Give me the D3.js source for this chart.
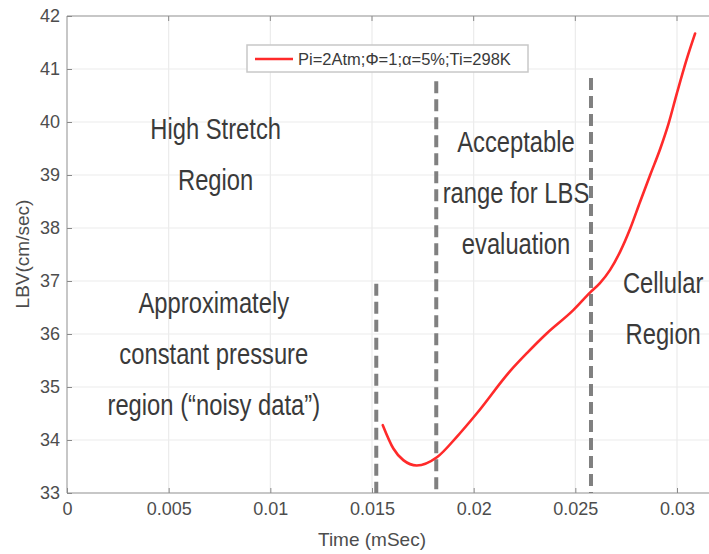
<!DOCTYPE html>
<html>
<head>
<meta charset="utf-8">
<script src="https://cdn.jsdelivr.net/npm/d3@7"></script>
<style>
  html, body { margin: 0; padding: 0; background: #fff; }
  svg { display: block; }
</style>
</head>
<body>
<svg id="chart" width="709" height="554"></svg>
<script>
// Laminar burning velocity vs. time
const timeMs = [0.01553, 0.01605, 0.01654, 0.0172, 0.01821, 0.01917, 0.02015, 0.02179, 0.02262,
                0.02359, 0.0249, 0.02572, 0.02621, 0.02671, 0.02720, 0.02770, 0.02819, 0.02868,
                0.02918, 0.02957, 0.03000, 0.03049, 0.03089];
const lbv = [34.28, 33.84, 33.62, 33.52, 33.68, 34.06, 34.50, 35.30, 35.64,
             36.01, 36.45, 36.78, 36.96, 37.21, 37.55, 37.99, 38.50, 39.00,
             39.50, 39.95, 40.55, 41.20, 41.67];

const xTicks = [0, 0.005, 0.01, 0.015, 0.02, 0.025, 0.03];
const xTickLabels = ["0", "0.005", "0.01", "0.015", "0.02", "0.025", "0.03"];
const yTicks = [33, 34, 35, 36, 37, 38, 39, 40, 41, 42];

// region boundaries (time) and the LBV level where each dashed marker stops
const boundaryTimes = [0.01521, 0.01816, 0.02577];
const boundaryTops = [36.95, 40.77, 40.83];

const legendLabel = "Pi=2Atm;\u03A6=1;\u03B1=5%;Ti=298K";
const xTitle = "Time (mSec)";
const yTitle = "LBV(cm/sec)";

const regionNotes = [
  ["High Stretch", "Region"],
  ["Approximately", "constant pressure", "region (\u201Cnoisy data\u201D)"],
  ["Acceptable", "range for LBS", "evaluation"],
  ["Cellular", "Region"]
];
// anchor of each note: centre time, LBV at first baseline
const notePos = [[0.00731, 39.68], [0.00722, 36.40], [0.02208, 39.43], [0.02932, 36.77]];

const svg = d3.select("#chart");
const plot = { left: 67, right: 677, top: 16, bottom: 493 };

const x = d3.scaleLinear().domain([0, 0.03]).range([plot.left, plot.right]);
const y = d3.scaleLinear().domain([33, 42]).range([plot.bottom, plot.top]);

const tickFont = "'Liberation Sans', Arial, sans-serif";

// grid
const grid = svg.append("g");
grid.selectAll(".gx").data(xTicks.slice(1)).join("line")
  .attr("x1", d => x(d)).attr("x2", d => x(d))
  .attr("y1", plot.top).attr("y2", plot.bottom)
  .attr("stroke", "#ebebeb").attr("stroke-width", 1.2);
grid.selectAll(".gy").data(yTicks.slice(1, -1)).join("line")
  .attr("x1", plot.left).attr("x2", 709)
  .attr("y1", d => y(d)).attr("y2", d => y(d))
  .attr("stroke", "#ebebeb").attr("stroke-width", 1.2);

// box edges
svg.append("line").attr("x1", plot.left).attr("x2", 709).attr("y1", plot.top).attr("y2", plot.top)
  .attr("stroke", "#b4b4b4").attr("stroke-width", 1.5);
svg.append("line").attr("x1", plot.left).attr("x2", 709).attr("y1", plot.bottom).attr("y2", plot.bottom)
  .attr("stroke", "#b4b4b4").attr("stroke-width", 1.5);
svg.append("line").attr("x1", plot.left).attr("x2", plot.left).attr("y1", plot.top).attr("y2", plot.bottom)
  .attr("stroke", "#b4b4b4").attr("stroke-width", 1.5);

// axes
const yAxis = d3.axisLeft(y).tickValues(yTicks).tickSize(-5).tickPadding(7);
const gy = svg.append("g").attr("transform", `translate(${plot.left},0)`).call(yAxis);
gy.select(".domain").remove();
gy.selectAll(".tick line").attr("stroke", "#8a8a8a");
gy.selectAll("text").attr("font-family", tickFont).attr("font-size", 18).attr("fill", "#4d4d4d");

const xAxis = d3.axisBottom(x).tickValues(xTicks).tickFormat((d, i) => xTickLabels[i]).tickSize(-5).tickPadding(9);
const gx = svg.append("g").attr("transform", `translate(0,${plot.bottom})`).call(xAxis);
gx.select(".domain").remove();
gx.selectAll(".tick line").attr("stroke", "#8a8a8a");
gx.selectAll("text").attr("font-family", tickFont).attr("font-size", 18).attr("fill", "#4d4d4d");

// top ticks
svg.selectAll(".tt").data(xTicks.slice(1)).join("line")
  .attr("x1", d => x(d)).attr("x2", d => x(d)).attr("y1", plot.top).attr("y2", plot.top + 5)
  .attr("stroke", "#8a8a8a");

// axis titles
svg.append("text").attr("x", 372).attr("y", 546).attr("text-anchor", "middle")
  .attr("font-family", tickFont).attr("font-size", 19).attr("fill", "#4d4d4d").text(xTitle);
svg.append("text").attr("transform", "translate(29,254) rotate(-90)").attr("text-anchor", "middle")
  .attr("font-family", tickFont).attr("font-size", 19).attr("fill", "#4d4d4d").text(yTitle);

// dashed region boundaries
svg.selectAll(".bd").data(boundaryTimes).join("line")
  .attr("x1", d => x(d)).attr("x2", d => x(d))
  .attr("y1", (d, i) => y(boundaryTops[i])).attr("y2", plot.bottom)
  .attr("stroke", "#808080").attr("stroke-width", 4).attr("stroke-dasharray", "12,6");

// LBV curve
const line = d3.line().x((d, i) => x(timeMs[i])).y(d => y(d)).curve(d3.curveMonotoneX);
svg.append("path").datum(lbv).attr("d", line)
  .attr("fill", "none").attr("stroke", "#ff2a2a").attr("stroke-width", 2.6).attr("stroke-linecap", "round");

// region notes, set in a condensed face
regionNotes.forEach((lines, k) => {
  const t = svg.append("text").attr("text-anchor", "middle")
    .attr("transform", `translate(${x(notePos[k][0])},${y(notePos[k][1])}) scale(0.82,1)`)
    .attr("font-family", tickFont).attr("font-size", 29).attr("fill", "#3a3a3a");
  lines.forEach((s, j) => {
    t.append("tspan").attr("x", 0).attr("y", j * 51).text(s);
  });
});

// legend
const lg = svg.append("g");
lg.append("rect").attr("x", 247).attr("y", 45).attr("width", 281).attr("height", 27)
  .attr("fill", "#fff").attr("stroke", "#c8c8c8").attr("stroke-width", 1.5);
lg.append("line").attr("x1", 255).attr("x2", 293).attr("y1", 59).attr("y2", 59)
  .attr("stroke", "#ff2a2a").attr("stroke-width", 2.6);
lg.append("text").attr("x", 298).attr("y", 65).attr("font-family", tickFont).attr("font-size", 16.5)
  .attr("fill", "#3a3a3a").text(legendLabel);
</script>
</body>
</html>
